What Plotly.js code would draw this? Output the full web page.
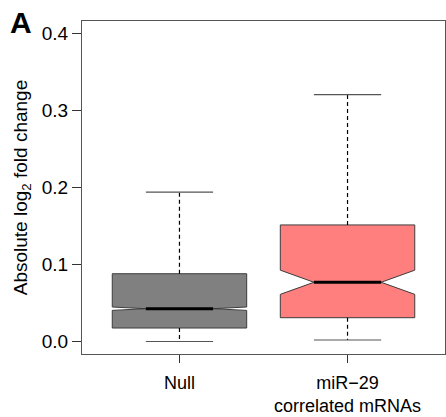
<!DOCTYPE html>
<html>
<head>
<meta charset="utf-8">
<script src="https://cdn.plot.ly/plotly-3.0.1.min.js"></script>
<style>html,body{margin:0;padding:0;background:#fff;}#chart{width:446px;height:417px;}</style>
</head>
<body>
<div id="chart"></div>
<script>
// Data
const categories = ['Null', 'miR\u221229<br>correlated mRNAs'];
const positions = [1, 2];
const q1Vals = [0.0175, 0.0309];
const medianVals = [0.0426, 0.0769];
const q3Vals = [0.0880, 0.1513];
const lowerWhisker = [0.0000, 0.0020];
const upperWhisker = [0.1940, 0.3205];
const notchSpans = [0.0022, 0.0157];
const fillColors = ['#808080', '#ff7f7f'];
const yTicks = [0, 0.1, 0.2, 0.3, 0.4];

const FONT = 'Liberation Sans, Arial, Helvetica, sans-serif';
const BOXW = 0.8;        // box width in axis units
const HALFIN = 0.2;      // half width of median line / caps
const edge = '#3c3c3c';

const traces = [];
categories.forEach((c, i) => {
  const x = positions[i];
  traces.push({
    type: 'box',
    x: [x],
    q1: [q1Vals[i]], median: [medianVals[i]], q3: [q3Vals[i]],
    lowerfence: [q1Vals[i]], upperfence: [q3Vals[i]],
    notched: true, notchspan: [notchSpans[i]], notchwidth: 0.25,
    width: BOXW, whiskerwidth: 0,
    fillcolor: fillColors[i],
    line: {color: edge, width: 1},
    boxpoints: false, hoverinfo: 'skip', showlegend: false
  });
  // dashed whiskers
  traces.push({type: 'scatter', mode: 'lines', x: [x, x], y: [q3Vals[i], upperWhisker[i]],
    line: {color: '#000', width: 1.2, dash: '4px,3px'}, hoverinfo: 'skip', showlegend: false});
  traces.push({type: 'scatter', mode: 'lines', x: [x, x], y: [q1Vals[i], lowerWhisker[i]],
    line: {color: '#000', width: 1.2, dash: '4px,3px'}, hoverinfo: 'skip', showlegend: false});
  // caps
  traces.push({type: 'scatter', mode: 'lines', x: [x - HALFIN, x + HALFIN], y: [upperWhisker[i], upperWhisker[i]],
    line: {color: '#555', width: 1.2}, hoverinfo: 'skip', showlegend: false});
  traces.push({type: 'scatter', mode: 'lines', x: [x - HALFIN, x + HALFIN], y: [lowerWhisker[i], lowerWhisker[i]],
    line: {color: '#555', width: 1.2}, hoverinfo: 'skip', showlegend: false});
  // thick median
  traces.push({type: 'scatter', mode: 'lines', x: [x - HALFIN, x + HALFIN], y: [medianVals[i], medianVals[i]],
    line: {color: '#000', width: 3}, hoverinfo: 'skip', showlegend: false});
});

const layout = {
  width: 446, height: 417,
  margin: {l: 82, r: 1, t: 21, b: 63},
  paper_bgcolor: '#fff', plot_bgcolor: '#fff',
  font: {family: FONT, size: 19, color: '#000'},
  showlegend: false,
  xaxis: {
    type: 'linear', range: [0.42, 2.58],
    tickvals: positions, ticktext: categories,
    ticks: 'outside', ticklen: 8, tickcolor: '#333', tickwidth: 1,
    ticklabelstandoff: 4,
    showgrid: false, zeroline: false,
    showline: true, mirror: true, linecolor: '#555', linewidth: 1,
    tickfont: {family: FONT, size: 18, color: '#000'}
  },
  yaxis: {
    range: [-0.0162, 0.416],
    tickvals: yTicks, ticktext: yTicks.map(v => v.toFixed(1)),
    ticks: 'outside', ticklen: 9, tickcolor: '#333', tickwidth: 1,
    showgrid: false, zeroline: false,
    showline: true, mirror: true, linecolor: '#555', linewidth: 1,
    tickfont: {family: FONT, size: 19, color: '#000'},
    title: {text: 'Absolute log<sub>2</sub> fold change', font: {family: FONT, size: 19, color: '#000'}, standoff: 9}
  },
  annotations: [{
    text: '<b>A</b>', xref: 'paper', yref: 'paper', x: -0.205, y: 1.05,
    xanchor: 'left', yanchor: 'top', showarrow: false,
    font: {family: FONT, size: 30, color: '#000'}
  }]
};

Plotly.newPlot('chart', traces, layout, {displayModeBar: false, staticPlot: true});
</script>
</body>
</html>
